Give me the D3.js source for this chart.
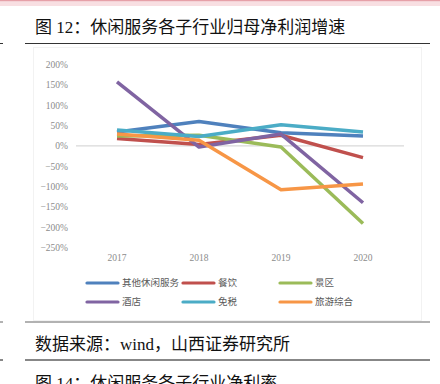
<!DOCTYPE html>
<html><head><meta charset="utf-8">
<script src="https://cdn.jsdelivr.net/npm/d3@7/dist/d3.min.js"></script>
<style>html,body{margin:0;padding:0;background:#fff;}svg{display:block;}</style>
</head><body>
<script>
const years = ["2017","2018","2019","2020"];
const seriesNames = ["其他休闲服务","餐饮","景区","酒店","免税","旅游综合"];
const otherLeisure = [34, 60, 32, 24];
const catering = [18, 3, 26, -29];
const scenic = [24, 26, -3, -191];
const hotel = [157, -3, 29, -140];
const dutyFree = [39, 23, 52, 34];
const tourism = [29, 14, -108, -94];
const yTicks = [200,150,100,50,0,-50,-100,-150,-200,-250];
const colors = ["#4f81bd","#c0504d","#9bbb59","#8064a2","#4bacc6","#f79646"];
const seriesValues = [otherLeisure, catering, scenic, hotel, dutyFree, tourism];

const W = 440, H = 384;
const svg = d3.select("body").append("svg").attr("width", W).attr("height", H);
const CJK = "'Liberation Serif','Noto Sans CJK SC',serif";

// top pink band
svg.append("rect").attr("x",0).attr("y",0).attr("width",W).attr("height",6).attr("fill","#f8dfe2");
svg.append("rect").attr("x",0).attr("y",0).attr("width",W).attr("height",1.2).attr("fill","#e6a0a8");

// title
svg.append("text").attr("x",35).attr("y",33).attr("font-family",CJK).attr("font-size",17)
  .attr("fill","#111").text("图 12：休闲服务各子行业归母净利润增速");
svg.append("line").attr("x1",25).attr("x2",430).attr("y1",43.5).attr("y2",43.5).attr("stroke","#333").attr("stroke-width",1.2);
svg.append("line").attr("x1",0).attr("x2",3).attr("y1",43.5).attr("y2",43.5).attr("stroke","#333").attr("stroke-width",1);

// chart border (faint)
svg.append("rect").attr("x",33.5).attr("y",47.5).attr("width",388).attr("height",273)
  .attr("fill","none").attr("stroke","#f2f2f2").attr("stroke-width",1);

const x = d3.scaleBand().domain(years).range([76,404]).padding(0);
const y = d3.scaleLinear().domain([-250,200]).range([247.5,64.5]);

// zero line
svg.append("line").attr("x1",76).attr("x2",404).attr("y1",y(0)).attr("y2",y(0))
  .attr("stroke","#d9d9d9").attr("stroke-width",1.2);

// y axis labels
const yAxis = d3.axisLeft(y).tickValues(yTicks).tickSize(0).tickPadding(0)
  .tickFormat(d => (d < 0 ? "\u2212" + (-d) : d) + "%");
const gy = svg.append("g").attr("transform","translate(68,0)").call(yAxis);
gy.select(".domain").remove();
gy.selectAll("text").attr("font-family","'Liberation Serif',serif").attr("font-size",9.5).attr("fill","#8c8c8c");

// x axis labels
const xAxis = d3.axisBottom(x).tickSize(0).tickPadding(0);
const gx = svg.append("g").attr("transform","translate(0,254)").call(xAxis);
gx.select(".domain").remove();
gx.selectAll("text").attr("font-family","'Liberation Serif',serif").attr("font-size",9.5).attr("fill","#8c8c8c");

// lines
const line = d3.line().x((d,i) => x(years[i]) + x.bandwidth()/2).y(d => y(d));
seriesValues.forEach((vals, k) => {
  svg.append("path").datum(vals).attr("d", line).attr("fill","none")
    .attr("stroke", colors[k]).attr("stroke-width",3.5).attr("stroke-linejoin","round").attr("stroke-linecap","butt");
});

// legend
const legX = [87, 183, 280], legY = [283, 302];
seriesNames.forEach((name, k) => {
  const cx = legX[k % 3], cy = legY[Math.floor(k / 3)];
  svg.append("line").attr("x1",cx).attr("x2",cx+31).attr("y1",cy).attr("y2",cy)
    .attr("stroke",colors[k]).attr("stroke-width",3.2).attr("stroke-linecap","round");
  svg.append("text").attr("x",cx+35).attr("y",cy).attr("dy","0.35em")
    .attr("font-family",CJK).attr("font-size",9.5).attr("fill","#595959").text(name);
});

// source
svg.append("line").attr("x1",25).attr("x2",430).attr("y1",322).attr("y2",322).attr("stroke","#666").attr("stroke-width",1.2);
svg.append("line").attr("x1",0).attr("x2",3).attr("y1",322).attr("y2",322).attr("stroke","#666").attr("stroke-width",1);
svg.append("text").attr("x",35).attr("y",350).attr("font-family",CJK).attr("font-size",17)
  .attr("fill","#111").text("数据来源：wind，山西证券研究所");
svg.append("line").attr("x1",25).attr("x2",430).attr("y1",360).attr("y2",360).attr("stroke","#111").attr("stroke-width",1.2);
svg.append("line").attr("x1",0).attr("x2",3).attr("y1",360).attr("y2",360).attr("stroke","#111").attr("stroke-width",1);
svg.append("text").attr("x",35).attr("y",389).attr("font-family",CJK).attr("font-size",17)
  .attr("fill","#111").text("图 14：休闲服务各子行业净利率");
</script>
</body></html>
